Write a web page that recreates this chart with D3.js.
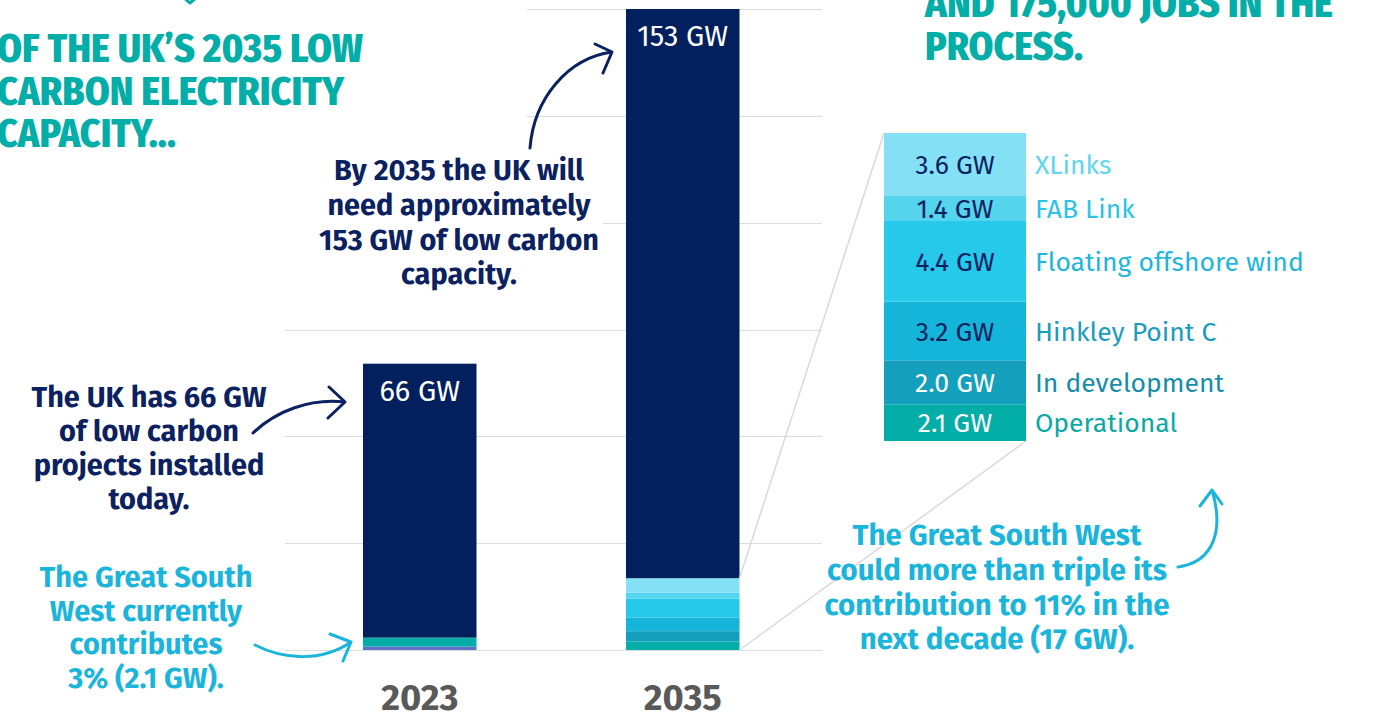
<!DOCTYPE html>
<html>
<head>
<meta charset="utf-8">
<script src="https://cdn.jsdelivr.net/npm/d3@7"></script>
<style>
  html, body { margin: 0; padding: 0; background: #ffffff; overflow: hidden; }
  svg { display: block; }
</style>
</head>
<body>
<svg id="chart" width="1382" height="715"></svg>
<script>
// ---------------- DATA ----------------
const categories = ["2023", "2035"];
const seriesNames = ["Other", "Operational", "In development", "Hinkley Point C",
                     "Floating offshore wind", "FAB Link", "XLinks", "Rest of UK"];
const values2023 = [0.8, 2.1, 0, 0, 0, 0, 0, 64.1];
const values2035 = [0, 2.0, 2.4, 3.2, 4.4, 1.4, 3.4, 136.6];
const totalLabels = ["66 GW", "153 GW"];
const yTicks = [0, 25, 50, 75, 100, 125, 150];

const gswNames  = ["Operational", "In development", "Hinkley Point C", "Floating offshore wind", "FAB Link", "XLinks"];
const gswValues = [2.0, 2.4, 3.2, 4.4, 1.4, 3.4];
const gswLabels = ["2.1 GW", "2.0 GW", "3.2 GW", "4.4 GW", "1.4 GW", "3.6 GW"];

const titleLeft  = ["OF THE UK\u2019S 2035 LOW", "CARBON ELECTRICITY", "CAPACITY..."];
const titleRight = ["AND 175,000 JOBS IN THE", "PROCESS."];
const note2035   = ["By 2035 the UK will", "need approximately", "153 GW of low carbon", "capacity."];
const note2023   = ["The UK has 66 GW", "of low carbon", "projects installed", "today."];
const noteGswNow = ["The Great South", "West currently", "contributes", "3% (2.1 GW)."];
const noteGswFut = ["The Great South West", "could more than triple its", "contribution to 11% in the", "next decade (17 GW)."];

// ---------------- STYLE ----------------
const colors = ["#5b72c6", "#03ada8", "#14a0bc", "#14b5d8", "#27c9ea", "#55d4ee", "#84e1f5", "#02205e"];
const gswTextColors = ["#0aa9a4", "#168ea9", "#1a9cbf", "#1eb6dc", "#2cc3e4", "#5fd5ef"];
const gswValueColors = ["#ffffff", "#ffffff", "#0b2160", "#0b2160", "#0b2160", "#0b2160"];
const NAVY = "#0b2160", TEAL = "#03ada8", CYAN = "#1bb5dc", GREY = "#595959";
const SANS = "'Fira Sans', 'Open Sans', 'Noto Sans', sans-serif";

const svg = d3.select("#chart");
svg.append("rect").attr("width", 1382).attr("height", 715).attr("fill", "#fff");

function fitWidth(sel, target) {
  const max = d3.max(sel.nodes(), n => n.getComputedTextLength());
  const fs = parseFloat(sel.attr("font-size"));
  sel.attr("font-size", fs * target / max);
  return sel;
}

// ---------------- SCALES ----------------
const y = d3.scaleLinear().domain([0, 150]).range([650, 9]).clamp(true);
const x = d3.scaleBand().domain(categories).range([285, 817.5])
  .paddingInner(0.5684).paddingOuter(0.2966);

// gridlines
const gridStart = v => (v >= 125 ? 527 : (v >= 100 ? 603 : 285));
svg.append("g").selectAll("line").data(yTicks).join("line")
  .attr("x1", d => gridStart(d)).attr("x2", 822)
  .attr("y1", d => Math.round(y(d)) + 0.5).attr("y2", d => Math.round(y(d)) + 0.5)
  .attr("stroke", "#dddddd").attr("stroke-width", 1.2);

// stacked bars
const table = categories.map((c, i) => {
  const row = { year: c };
  const vals = i === 0 ? values2023 : values2035;
  seriesNames.forEach((s, j) => row[s] = vals[j]);
  return row;
});
const stacked = d3.stack().keys(seriesNames)(table);
svg.append("g").selectAll("g").data(stacked).join("g")
  .attr("fill", (d, i) => colors[i])
  .selectAll("rect").data(d => d).join("rect")
  .attr("x", d => x(d.data.year))
  .attr("width", x.bandwidth())
  .attr("y", d => y(d[1]))
  .attr("height", d => Math.max(0, y(d[0]) - y(d[1])));

// total labels inside bars
const topOf = categories.map((c, i) => y(d3.sum(i === 0 ? values2023 : values2035)));
const totals = svg.append("g").selectAll("text").data(categories).join("text")
  .attr("x", d => x(d) + x.bandwidth() / 2)
  .attr("y", (d, i) => topOf[i] + 37)
  .attr("text-anchor", "middle").attr("fill", "#fff")
  .attr("font-family", SANS).attr("font-size", 24)
  .text((d, i) => totalLabels[i]);
fitWidth(totals, 91);

// year axis labels
const years = svg.append("g").selectAll("text").data(categories).join("text")
  .attr("x", d => x(d) + x.bandwidth() / 2)
  .attr("y", 710)
  .attr("text-anchor", "middle").attr("fill", GREY)
  .attr("font-family", SANS).attr("font-weight", 700).attr("font-size", 32)
  .text(d => d);
fitWidth(years, 78);

// ---------------- ZOOM LEGEND BOX ----------------
const gswTotal = d3.sum(gswValues);
const yL = d3.scaleLinear().domain([0, gswTotal]).range([441, 133]);
const cum = d3.cumsum(gswValues);
const boxX0 = 884, boxX1 = 1026;

// connectors
const barRight = x("2035") + x.bandwidth();
const gswTopBar = y(gswTotal);
const conn = svg.append("g").attr("stroke", "#d9d9d9").attr("stroke-width", 1.5).attr("fill", "none");
conn.append("line").attr("x1", barRight).attr("y1", gswTopBar).attr("x2", boxX0).attr("y2", yL(gswTotal));
conn.append("line").attr("x1", barRight).attr("y1", y(0)).attr("x2", boxX1).attr("y2", yL(0));

const leg = svg.append("g");
leg.selectAll("rect").data(gswValues).join("rect")
  .attr("x", boxX0).attr("width", boxX1 - boxX0)
  .attr("y", (d, i) => yL(cum[i]))
  .attr("height", (d, i) => yL(cum[i] - d) - yL(cum[i]))
  .attr("fill", (d, i) => colors[i + 1]);
const vals = leg.selectAll("text.v").data(gswValues).join("text").attr("class", "v")
  .attr("x", (boxX0 + boxX1) / 2)
  .attr("y", (d, i) => (yL(cum[i]) + yL(cum[i] - d)) / 2)
  .attr("dy", "0.36em")
  .attr("text-anchor", "middle")
  .attr("fill", (d, i) => gswValueColors[i])
  .attr("font-family", SANS).attr("font-size", 22)
  .text((d, i) => gswLabels[i]);
fitWidth(vals, 80);
const names = leg.selectAll("text.n").data(gswNames).join("text").attr("class", "n")
  .attr("x", 1035)
  .attr("y", (d, i) => (yL(cum[i]) + yL(cum[i] - gswValues[i])) / 2)
  .attr("dy", "0.36em")
  .attr("fill", (d, i) => gswTextColors[i])
  .attr("font-family", SANS).attr("font-size", 22)
  .text(d => d);
fitWidth(names, 269);

// ---------------- TEXT HELPERS ----------------
function block(lines, cx, baselines, color, anchor, size, weight) {
  const g = svg.append("g");
  return g.selectAll("text").data(lines).join("text")
    .attr("x", cx).attr("y", (d, i) => baselines[i])
    .attr("text-anchor", anchor).attr("fill", color)
    .attr("font-family", SANS).attr("font-weight", weight).attr("font-size", size)
    .text(d => d);
}

// titles (condensed heavy)
function condensed(lines, x0, baselines, widths) {
  svg.append("g").selectAll("text").data(lines).join("text")
    .attr("x", x0).attr("y", (d, i) => baselines[i])
    .attr("fill", TEAL)
    .attr("font-family", "'Fira Sans Condensed', 'Open Sans', sans-serif")
    .attr("font-weight", 800).attr("font-size", 40)
    .attr("textLength", (d, i) => widths[i]).attr("lengthAdjust", "spacingAndGlyphs")
    .text(d => d);
}
condensed(titleLeft, -3, [62, 104.5, 147], [366, 347, 179]);
condensed(titleRight, 925, [17, 60], [408, 158]);

// annotation blocks
fitWidth(block(note2035, 459, [180, 215, 250, 284], NAVY, "middle", 25, 700), 280);
fitWidth(block(note2023, 149, [407, 441, 475, 509], NAVY, "middle", 25, 700), 235);
fitWidth(block(noteGswNow, 146, [587, 620.5, 654, 687.5], CYAN, "middle", 25, 700), 213);
fitWidth(block(noteGswFut, 997, [545, 580, 614.5, 649], CYAN, "middle", 25, 700), 345);

// ---------------- ARROWS ----------------
const arrows = svg.append("g").attr("fill", "none").attr("stroke-width", 3)
  .attr("stroke-linecap", "round").attr("stroke-linejoin", "round");
arrows.append("path").attr("stroke", NAVY)
  .attr("d", "M530,148 C534,98 568,58 612,52 M595,44 L612,52 L603,73");
arrows.append("path").attr("stroke", NAVY)
  .attr("d", "M253,433 C276,411 310,398 345,402 M329,387 L345,402 L328,418");
arrows.append("path").attr("stroke", CYAN)
  .attr("d", "M255,645 C284,660 322,662 351,642 M330,634 L351,642 L343,661");
arrows.append("path").attr("stroke", CYAN)
  .attr("d", "M1178,567 C1214,562 1224,530 1212,490 M1200,506 L1212,490 L1222,504");
arrows.append("path").attr("stroke", TEAL)
  .attr("d", "M183,-3 L190,3 L197,-3");
</script>
</body>
</html>
